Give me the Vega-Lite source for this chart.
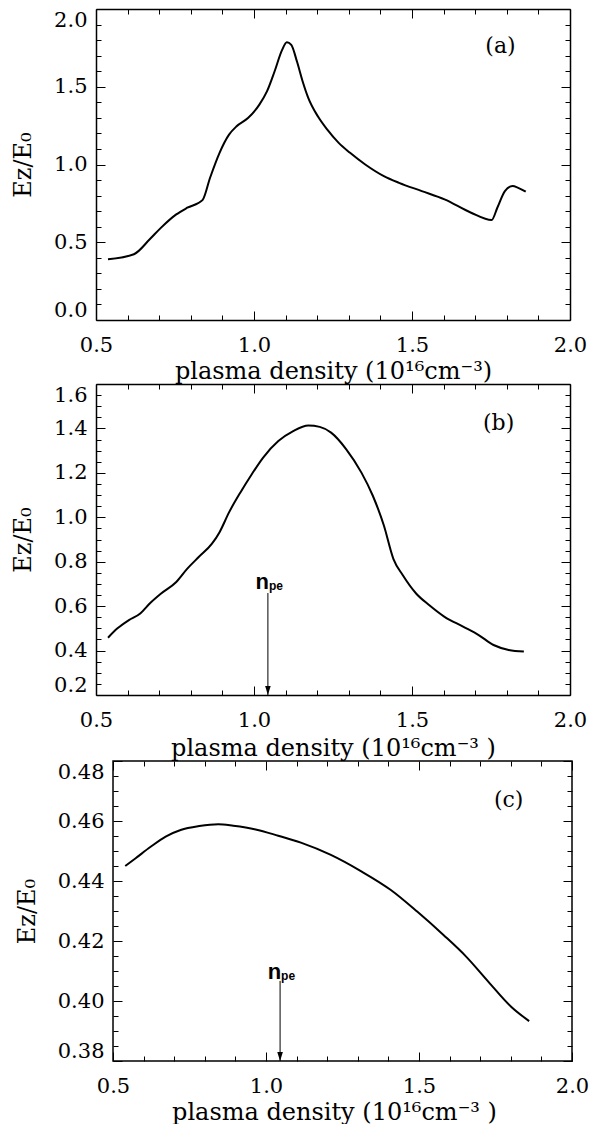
{
  "$schema": "https://vega.github.io/schema/vega-lite/v6.json",
  "padding": {"left": 11, "top": 8, "right": 0, "bottom": 0},
  "background": "white",
  "config": {
    "view": {"stroke": null},
    "font": "DejaVu Serif",
    "axis": {
      "labelFont": "DejaVu Serif", "labelFontSize": 21, "labelColor": "black",
      "titleFont": "DejaVu Serif", "titleFontSize": 24, "titleFontWeight": "normal", "titleColor": "black",
      "domainColor": "black", "domainWidth": 1.5, "tickColor": "black", "tickWidth": 1,
      "grid": false, "labelOverlap": false, "minExtent": 0
    }
  },
  "datasets": {
    "a": [
      {"x":0.538,"y":0.391},{"x":0.620,"y":0.423},{"x":0.670,"y":0.519},{"x":0.706,"y":0.594},
      {"x":0.754,"y":0.679},{"x":0.789,"y":0.722},{"x":0.837,"y":0.771},{"x":0.861,"y":0.915},
      {"x":0.891,"y":1.075},{"x":0.921,"y":1.192},{"x":0.945,"y":1.246},{"x":0.981,"y":1.299},
      {"x":1.017,"y":1.385},{"x":1.041,"y":1.470},{"x":1.065,"y":1.598},{"x":1.089,"y":1.737},
      {"x":1.104,"y":1.786},{"x":1.118,"y":1.769},{"x":1.136,"y":1.662},{"x":1.154,"y":1.534},
      {"x":1.172,"y":1.427},{"x":1.202,"y":1.310},{"x":1.232,"y":1.224},{"x":1.268,"y":1.139},
      {"x":1.304,"y":1.075},{"x":1.352,"y":1.000},{"x":1.411,"y":0.925},{"x":1.459,"y":0.882},
      {"x":1.531,"y":0.829},{"x":1.603,"y":0.776},{"x":1.687,"y":0.690},{"x":1.752,"y":0.643},
      {"x":1.770,"y":0.722},{"x":1.794,"y":0.829},{"x":1.818,"y":0.861},{"x":1.836,"y":0.850},
      {"x":1.860,"y":0.825}
    ],
    "b": [
      {"x":0.538,"y":0.458},{"x":0.568,"y":0.500},{"x":0.604,"y":0.537},{"x":0.640,"y":0.567},
      {"x":0.670,"y":0.612},{"x":0.706,"y":0.657},{"x":0.754,"y":0.709},{"x":0.789,"y":0.769},
      {"x":0.825,"y":0.821},{"x":0.867,"y":0.881},{"x":0.891,"y":0.933},{"x":0.921,"y":1.022},
      {"x":0.957,"y":1.112},{"x":0.993,"y":1.194},{"x":1.029,"y":1.269},{"x":1.077,"y":1.343},
      {"x":1.124,"y":1.388},{"x":1.172,"y":1.413},{"x":1.208,"y":1.407},{"x":1.244,"y":1.381},
      {"x":1.292,"y":1.306},{"x":1.340,"y":1.201},{"x":1.376,"y":1.097},{"x":1.411,"y":0.963},
      {"x":1.441,"y":0.813},{"x":1.471,"y":0.739},{"x":1.513,"y":0.657},{"x":1.555,"y":0.604},
      {"x":1.603,"y":0.552},{"x":1.663,"y":0.507},{"x":1.711,"y":0.470},{"x":1.758,"y":0.425},
      {"x":1.806,"y":0.403},{"x":1.854,"y":0.396}
    ],
    "c": [
      {"x":0.540,"y":0.4450},{"x":0.574,"y":0.4476},{"x":0.623,"y":0.4514},{"x":0.672,"y":0.4548},
      {"x":0.721,"y":0.4570},{"x":0.782,"y":0.4583},{"x":0.844,"y":0.4589},{"x":0.893,"y":0.4584},
      {"x":0.966,"y":0.4572},{"x":1.040,"y":0.4551},{"x":1.114,"y":0.4528},{"x":1.212,"y":0.4487},
      {"x":1.310,"y":0.4433},{"x":1.408,"y":0.4370},{"x":1.494,"y":0.4298},{"x":1.580,"y":0.4220},
      {"x":1.654,"y":0.4148},{"x":1.727,"y":0.4064},{"x":1.801,"y":0.3981},{"x":1.860,"y":0.3933}
    ],
    "framec": [{"x":0.5,"x2":2.0,"y":0.38,"y2":0.48}],
    "la": [{"x":1.78,"y":1.76,"t":"(a)"}],
    "lb": [{"x":1.774,"y":1.424,"t":"(b)"}],
    "lc": [{"x":1.793,"y":0.467,"t":"(c)"}],
    "arb": [{"x":1.044,"y":0.659,"y2":0.2,"ty":0.708,"tip":0.2}],
    "arc": [{"x":1.046,"y":0.4067,"y2":0.38,"ty":0.4097,"tip":0.38}]
  },
  "concat": [
    {
      "width": 474, "height": 311,
      "resolve": {"axis": {"x": "independent", "y": "independent"}},
      "layer": [
        {
          "data": {"name": "a"},
          "mark": {"type": "line", "color": "black", "strokeWidth": 2, "interpolate": "monotone"},
          "encoding": {
            "x": {"field": "x", "type": "quantitative", "scale": {"domain": [0.5, 2.0], "nice": false, "zero": false},
              "axis": {"orient": "bottom", "values": [0.5,1.0,1.5,2.0], "format": ".1f", "ticks": false,
                "labelFlush": false, "labelPadding": 14, "title": "plasma density (10¹⁶cm⁻³)", "titlePadding": 4}},
            "y": {"field": "y", "type": "quantitative", "scale": {"domain": [0, 2.0], "nice": false, "zero": false},
              "axis": {"orient": "left", "values": [0,0.5,1.0,1.5,2.0], "format": ".1f", "ticks": false,
                "labelFlush": true, "labelPadding": 9, "title": "Eᴢ/E₀", "titlePadding": 18}}
          }
        },
        {
          "data": {"name": "a"},
          "mark": {"type": "line", "opacity": 0},
          "encoding": {
            "x": {"field": "x", "type": "quantitative", "axis": {"orient": "top", "ticks": false, "labels": false, "title": null}},
            "y": {"field": "y", "type": "quantitative", "axis": {"orient": "right", "ticks": false, "labels": false, "title": null}}
          }
        },
        {
          "data": {"name": "a"},
          "mark": {"type": "line", "opacity": 0},
          "encoding": {
            "x": {"field": "x", "type": "quantitative", "axis": {"orient": "bottom", "values": [0.5,1.0,1.5,2.0], "domain": false, "labels": false, "title": null, "tickSize": 9, "offset": -9}},
            "y": {"field": "y", "type": "quantitative", "axis": {"orient": "left", "values": [0,0.5,1.0,1.5,2.0], "domain": false, "labels": false, "title": null, "tickSize": 9, "offset": -9}}
          }
        },
        {
          "data": {"name": "a"},
          "mark": {"type": "line", "opacity": 0},
          "encoding": {
            "x": {"field": "x", "type": "quantitative", "axis": {"orient": "bottom", "values": [0.6,0.7,0.8,0.9,1.1,1.2,1.3,1.4,1.6,1.7,1.8,1.9], "domain": false, "labels": false, "title": null, "tickSize": 5, "offset": -5}},
            "y": {"field": "y", "type": "quantitative", "axis": {"orient": "left", "values": [0.1,0.2,0.3,0.4,0.6,0.7,0.8,0.9,1.1,1.2,1.3,1.4,1.6,1.7,1.8,1.9], "domain": false, "labels": false, "title": null, "tickSize": 5, "offset": -5}}
          }
        },
        {
          "data": {"name": "a"},
          "mark": {"type": "line", "opacity": 0},
          "encoding": {
            "x": {"field": "x", "type": "quantitative", "axis": {"orient": "top", "values": [0.5,1.0,1.5,2.0], "domain": false, "labels": false, "title": null, "tickSize": 9, "offset": -9}},
            "y": {"field": "y", "type": "quantitative", "axis": {"orient": "right", "values": [0,0.5,1.0,1.5,2.0], "domain": false, "labels": false, "title": null, "tickSize": 9, "offset": -9}}
          }
        },
        {
          "data": {"name": "a"},
          "mark": {"type": "line", "opacity": 0},
          "encoding": {
            "x": {"field": "x", "type": "quantitative", "axis": {"orient": "top", "values": [0.6,0.7,0.8,0.9,1.1,1.2,1.3,1.4,1.6,1.7,1.8,1.9], "domain": false, "labels": false, "title": null, "tickSize": 5, "offset": -5}},
            "y": {"field": "y", "type": "quantitative", "axis": {"orient": "right", "values": [0.1,0.2,0.3,0.4,0.6,0.7,0.8,0.9,1.1,1.2,1.3,1.4,1.6,1.7,1.8,1.9], "domain": false, "labels": false, "title": null, "tickSize": 5, "offset": -5}}
          }
        },
        {
          "data": {"name": "la"},
          "mark": {"type": "text", "font": "DejaVu Serif", "fontSize": 22, "color": "black"},
          "encoding": {
            "x": {"field": "x", "type": "quantitative", "axis": null},
            "y": {"field": "y", "type": "quantitative", "axis": null},
            "text": {"field": "t"}
          }
        }
      ]
    },
    {
      "width": 474, "height": 311,
      "resolve": {"axis": {"x": "independent", "y": "independent"}},
      "layer": [
        {
          "data": {"name": "b"},
          "mark": {"type": "line", "color": "black", "strokeWidth": 2, "interpolate": "monotone"},
          "encoding": {
            "x": {"field": "x", "type": "quantitative", "scale": {"domain": [0.5, 2.0], "nice": false, "zero": false},
              "axis": {"orient": "bottom", "values": [0.5,1.0,1.5,2.0], "format": ".1f", "ticks": false,
                "labelFlush": false, "labelPadding": 14, "title": "plasma density (10¹⁶cm⁻³ )", "titlePadding": 6}},
            "y": {"field": "y", "type": "quantitative", "scale": {"domain": [0.2, 1.6], "nice": false, "zero": false},
              "axis": {"orient": "left", "values": [0.2,0.4,0.6,0.8,1.0,1.2,1.4,1.6], "format": ".1f", "ticks": false,
                "labelFlush": true, "labelPadding": 9, "title": "Eᴢ/E₀", "titlePadding": 18}}
          }
        },
        {
          "data": {"name": "b"},
          "mark": {"type": "line", "opacity": 0},
          "encoding": {
            "x": {"field": "x", "type": "quantitative", "axis": {"orient": "top", "ticks": false, "labels": false, "title": null}},
            "y": {"field": "y", "type": "quantitative", "axis": {"orient": "right", "ticks": false, "labels": false, "title": null}}
          }
        },
        {
          "data": {"name": "b"},
          "mark": {"type": "line", "opacity": 0},
          "encoding": {
            "x": {"field": "x", "type": "quantitative", "axis": {"orient": "bottom", "values": [0.5,1.0,1.5,2.0], "domain": false, "labels": false, "title": null, "tickSize": 9, "offset": -9}},
            "y": {"field": "y", "type": "quantitative", "axis": {"orient": "left", "values": [0.2,0.4,0.6,0.8,1.0,1.2,1.4,1.6], "domain": false, "labels": false, "title": null, "tickSize": 9, "offset": -9}}
          }
        },
        {
          "data": {"name": "b"},
          "mark": {"type": "line", "opacity": 0},
          "encoding": {
            "x": {"field": "x", "type": "quantitative", "axis": {"orient": "bottom", "values": [0.6,0.7,0.8,0.9,1.1,1.2,1.3,1.4,1.6,1.7,1.8,1.9], "domain": false, "labels": false, "title": null, "tickSize": 5, "offset": -5}},
            "y": {"field": "y", "type": "quantitative", "axis": {"orient": "left", "values": [0.25,0.3,0.35,0.45,0.5,0.55,0.65,0.7,0.75,0.85,0.9,0.95,1.05,1.1,1.15,1.25,1.3,1.35,1.45,1.5,1.55], "domain": false, "labels": false, "title": null, "tickSize": 5, "offset": -5}}
          }
        },
        {
          "data": {"name": "b"},
          "mark": {"type": "line", "opacity": 0},
          "encoding": {
            "x": {"field": "x", "type": "quantitative", "axis": {"orient": "top", "values": [0.5,1.0,1.5,2.0], "domain": false, "labels": false, "title": null, "tickSize": 9, "offset": -9}},
            "y": {"field": "y", "type": "quantitative", "axis": {"orient": "right", "values": [0.2,0.4,0.6,0.8,1.0,1.2,1.4,1.6], "domain": false, "labels": false, "title": null, "tickSize": 9, "offset": -9}}
          }
        },
        {
          "data": {"name": "b"},
          "mark": {"type": "line", "opacity": 0},
          "encoding": {
            "x": {"field": "x", "type": "quantitative", "axis": {"orient": "top", "values": [0.6,0.7,0.8,0.9,1.1,1.2,1.3,1.4,1.6,1.7,1.8,1.9], "domain": false, "labels": false, "title": null, "tickSize": 5, "offset": -5}},
            "y": {"field": "y", "type": "quantitative", "axis": {"orient": "right", "values": [0.25,0.3,0.35,0.45,0.5,0.55,0.65,0.7,0.75,0.85,0.9,0.95,1.05,1.1,1.15,1.25,1.3,1.35,1.45,1.5,1.55], "domain": false, "labels": false, "title": null, "tickSize": 5, "offset": -5}}
          }
        },
        {
          "data": {"name": "lb"},
          "mark": {"type": "text", "font": "DejaVu Serif", "fontSize": 22, "color": "black"},
          "encoding": {
            "x": {"field": "x", "type": "quantitative", "axis": null},
            "y": {"field": "y", "type": "quantitative", "axis": null},
            "text": {"field": "t"}
          }
        },
        {
          "data": {"name": "arb"},
          "mark": {"type": "rule", "color": "black", "strokeWidth": 1},
          "encoding": {
            "x": {"field": "x", "type": "quantitative", "axis": null},
            "y": {"field": "y", "type": "quantitative", "axis": null},
            "y2": {"field": "y2"}
          }
        },
        {
          "data": {"name": "arb"},
          "mark": {"type": "point", "shape": "M-0.8,-2.6L0.8,-2.6L0,0Z", "filled": true, "color": "black", "size": 49, "opacity": 1},
          "encoding": {
            "x": {"field": "x", "type": "quantitative", "axis": null},
            "y": {"field": "tip", "type": "quantitative", "axis": null}
          }
        },
        {
          "data": {"name": "arb"},
          "mark": {"type": "text", "text": "n", "font": "Liberation Sans", "fontWeight": "bold", "fontSize": 22, "color": "black", "align": "right", "baseline": "middle", "dx": 1},
          "encoding": {
            "x": {"field": "x", "type": "quantitative", "axis": null},
            "y": {"field": "ty", "type": "quantitative", "axis": null}
          }
        },
        {
          "data": {"name": "arb"},
          "mark": {"type": "text", "text": "pe", "font": "Liberation Sans", "fontWeight": "bold", "fontSize": 12, "color": "black", "align": "left", "baseline": "middle", "dx": 1, "dy": 4},
          "encoding": {
            "x": {"field": "x", "type": "quantitative", "axis": null},
            "y": {"field": "ty", "type": "quantitative", "axis": null}
          }
        }
      ]
    },
    {
      "width": 476, "height": 300,
      "resolve": {"axis": {"x": "independent", "y": "independent"}},
      "layer": [
        {
          "data": {"name": "c"},
          "mark": {"type": "line", "color": "black", "strokeWidth": 2, "interpolate": "monotone"},
          "encoding": {
            "x": {"field": "x", "type": "quantitative", "scale": {"domain": [0.4444, 2.0], "nice": false, "zero": false},
              "axis": {"orient": "bottom", "values": [0.5,1.0,1.5,2.0], "format": ".1f", "ticks": false, "domain": false,
                "labelFlush": false, "labelPadding": 14, "title": "plasma density (10¹⁶cm⁻³ )", "titlePadding": 4}},
            "y": {"field": "y", "type": "quantitative", "scale": {"domain": [0.38, 0.48], "nice": false, "zero": false},
              "axis": {"orient": "left", "offset": -17, "values": [0.38,0.40,0.42,0.44,0.46,0.48], "format": ".2f", "ticks": false, "domain": false,
                "labelFlush": true, "labelPadding": 9, "title": "Eᴢ/E₀", "titlePadding": 18}}
          }
        },
        {
          "data": {"name": "framec"},
          "mark": {"type": "rect", "filled": false, "stroke": "black", "strokeWidth": 1.5},
          "encoding": {
            "x": {"field": "x", "type": "quantitative", "axis": null},
            "x2": {"field": "x2"},
            "y": {"field": "y", "type": "quantitative", "axis": null},
            "y2": {"field": "y2"}
          }
        },
        {
          "data": {"name": "c"},
          "mark": {"type": "line", "opacity": 0},
          "encoding": {
            "x": {"field": "x", "type": "quantitative", "axis": {"orient": "bottom", "values": [0.5,1.0,1.5,2.0], "domain": false, "labels": false, "title": null, "tickSize": 9, "offset": -9}},
            "y": {"field": "y", "type": "quantitative", "axis": {"orient": "left", "values": [0.38,0.40,0.42,0.44,0.46,0.48], "domain": false, "labels": false, "title": null, "tickSize": 9, "offset": -26}}
          }
        },
        {
          "data": {"name": "c"},
          "mark": {"type": "line", "opacity": 0},
          "encoding": {
            "x": {"field": "x", "type": "quantitative", "axis": {"orient": "bottom", "values": [0.6,0.7,0.8,0.9,1.1,1.2,1.3,1.4,1.6,1.7,1.8,1.9], "domain": false, "labels": false, "title": null, "tickSize": 5, "offset": -5}},
            "y": {"field": "y", "type": "quantitative", "axis": {"orient": "left", "values": [0.385,0.39,0.395,0.405,0.41,0.415,0.425,0.43,0.435,0.445,0.45,0.455,0.465,0.47,0.475], "domain": false, "labels": false, "title": null, "tickSize": 5, "offset": -22}}
          }
        },
        {
          "data": {"name": "c"},
          "mark": {"type": "line", "opacity": 0},
          "encoding": {
            "x": {"field": "x", "type": "quantitative", "axis": {"orient": "top", "values": [0.5,1.0,1.5,2.0], "domain": false, "labels": false, "title": null, "tickSize": 9, "offset": -9}},
            "y": {"field": "y", "type": "quantitative", "axis": {"orient": "right", "values": [0.38,0.40,0.42,0.44,0.46,0.48], "domain": false, "labels": false, "title": null, "tickSize": 9, "offset": -9}}
          }
        },
        {
          "data": {"name": "c"},
          "mark": {"type": "line", "opacity": 0},
          "encoding": {
            "x": {"field": "x", "type": "quantitative", "axis": {"orient": "top", "values": [0.6,0.7,0.8,0.9,1.1,1.2,1.3,1.4,1.6,1.7,1.8,1.9], "domain": false, "labels": false, "title": null, "tickSize": 5, "offset": -5}},
            "y": {"field": "y", "type": "quantitative", "axis": {"orient": "right", "values": [0.385,0.39,0.395,0.405,0.41,0.415,0.425,0.43,0.435,0.445,0.45,0.455,0.465,0.47,0.475], "domain": false, "labels": false, "title": null, "tickSize": 5, "offset": -5}}
          }
        },
        {
          "data": {"name": "lc"},
          "mark": {"type": "text", "font": "DejaVu Serif", "fontSize": 22, "color": "black"},
          "encoding": {
            "x": {"field": "x", "type": "quantitative", "axis": null},
            "y": {"field": "y", "type": "quantitative", "axis": null},
            "text": {"field": "t"}
          }
        },
        {
          "data": {"name": "arc"},
          "mark": {"type": "rule", "color": "black", "strokeWidth": 1},
          "encoding": {
            "x": {"field": "x", "type": "quantitative", "axis": null},
            "y": {"field": "y", "type": "quantitative", "axis": null},
            "y2": {"field": "y2"}
          }
        },
        {
          "data": {"name": "arc"},
          "mark": {"type": "point", "shape": "M-0.8,-2.6L0.8,-2.6L0,0Z", "filled": true, "color": "black", "size": 49, "opacity": 1},
          "encoding": {
            "x": {"field": "x", "type": "quantitative", "axis": null},
            "y": {"field": "tip", "type": "quantitative", "axis": null}
          }
        },
        {
          "data": {"name": "arc"},
          "mark": {"type": "text", "text": "n", "font": "Liberation Sans", "fontWeight": "bold", "fontSize": 22, "color": "black", "align": "right", "baseline": "middle", "dx": 1},
          "encoding": {
            "x": {"field": "x", "type": "quantitative", "axis": null},
            "y": {"field": "ty", "type": "quantitative", "axis": null}
          }
        },
        {
          "data": {"name": "arc"},
          "mark": {"type": "text", "text": "pe", "font": "Liberation Sans", "fontWeight": "bold", "fontSize": 12, "color": "black", "align": "left", "baseline": "middle", "dx": 1, "dy": 4},
          "encoding": {
            "x": {"field": "x", "type": "quantitative", "axis": null},
            "y": {"field": "ty", "type": "quantitative", "axis": null}
          }
        }
      ]
    }
  ],
  "columns": 1,
  "spacing": 0
}
